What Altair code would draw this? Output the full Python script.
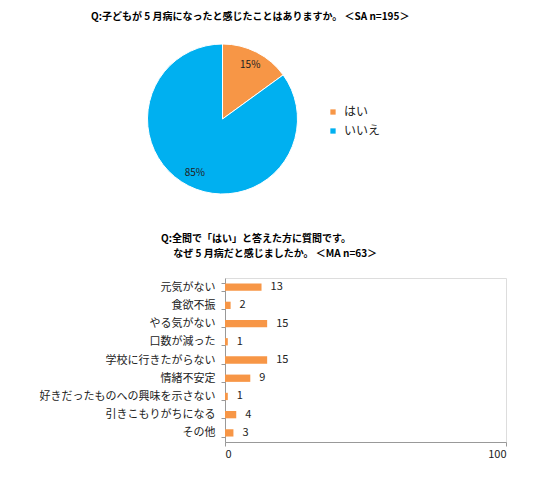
import altair as alt
import pandas as pd

FONT = "Noto Sans CJK JP"

# ---- data ----
pie_labels = ["はい", "いいえ"]
pie_values = [15, 85]
pie_text = ["15%", "85%"]
pie_colors = ["#F79646", "#00B0F0"]

bar_labels = [
    "元気がない", "食欲不振", "やる気がない", "口数が減った", "学校に行きたがらない",
    "情緒不安定", "好きだったものへの興味を示さない", "引きこもりがちになる", "その他",
]
bar_values = [13, 2, 15, 1, 15, 9, 1, 4, 3]
x_ticks = [0, 100]

title1 = "Q:子どもが 5 月病になったと感じたことはありますか。 ＜SA n=195＞"
title2 = ["Q:全問で「はい」と答えた方に質問です。",
          "\u200b\u3000 なぜ 5 月病だと感じましたか。 ＜MA n=63＞"]

pie_df = pd.DataFrame({"label": pie_labels, "value": pie_values, "text": pie_text,
                       "idx": list(range(len(pie_labels)))})
bar_df = pd.DataFrame({"label": bar_labels, "value": bar_values})

# pie centre, relative to the (shared) left edge of the plot column
PIE_CX = -2.5

# ---- pie ----
base = alt.Chart(pie_df).encode(
    theta=alt.Theta("value:Q", stack=True),
    order=alt.Order("idx:Q"),
)
arcs = base.mark_arc(outerRadius=75, stroke="white", strokeWidth=1, x=PIE_CX).encode(
    color=alt.Color("label:N", scale=alt.Scale(domain=pie_labels, range=pie_colors),
                    legend=alt.Legend(orient="none", legendX=102, legendY=67, title=None,
                                      symbolType="square", symbolSize=28, symbolStrokeWidth=0,
                                      labelFontSize=12, labelFont=FONT, labelColor="#222",
                                      labelOffset=5, rowPadding=7)),
)
pie_txt = base.mark_text(radius=61, fontSize=10, font=FONT, color="#222",
                         x=PIE_CX).encode(text="text:N")
pie = (arcs + pie_txt).properties(
    width=150, height=160,
    title=alt.TitleParams(title1, anchor="start", frame="group", dx=-134, fontSize=10,
                          font=FONT, fontWeight="bold", color="#000", offset=17),
)

# ---- bars ----
yenc = alt.Y("label:N", sort=bar_labels, title=None,
             scale=alt.Scale(paddingInner=0.6, paddingOuter=0.3),
             axis=alt.Axis(tickBand="extent", tickSize=4, labelPadding=6, labelFontSize=11,
                           labelFont=FONT, labelColor="#222", domainColor="#999",
                           tickColor="#999", labelLimit=400))
xenc = alt.X("value:Q", title=None, scale=alt.Scale(domain=[0, 100], nice=False),
             axis=alt.Axis(values=x_ticks, grid=False, tickSize=4, labelFontSize=11,
                           labelFont=FONT, labelColor="#222", domainColor="#999",
                           tickColor="#999", labelPadding=2))
bars = alt.Chart(bar_df).mark_bar(color="#F79646").encode(x=xenc, y=yenc)
bar_txt = alt.Chart(bar_df).mark_text(align="left", dx=9, fontSize=11, font=FONT,
                                      color="#222").encode(x=xenc, y=yenc, text="value:Q")
bar = (bars + bar_txt).properties(
    width=281, height=164,
    title=alt.TitleParams(title2, anchor="start", frame="group", dx=-64, fontSize=10,
                          font=FONT, fontWeight="bold", color="#000", lineHeight=15,
                          offset=13),
)

chart = alt.vconcat(pie, bar, spacing=34).properties(
    padding={"left": 30, "top": 4, "right": 5, "bottom": 5}
).configure_view(stroke=None).configure(background="white")

chart.save("out.html", embed_options={"renderer": "svg", "actions": False})
